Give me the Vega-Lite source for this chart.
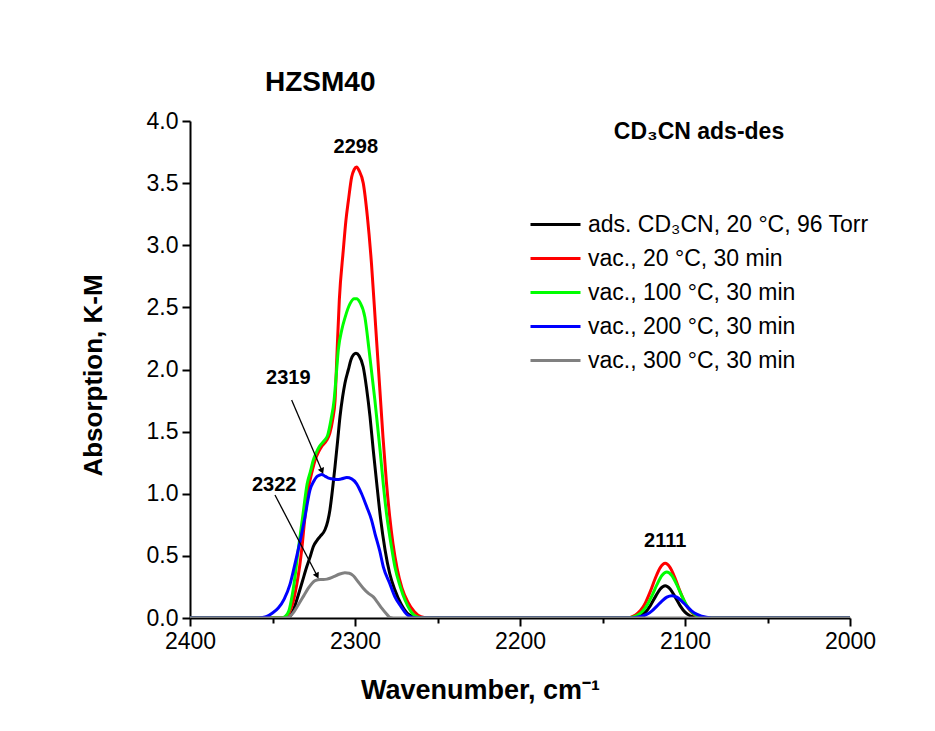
{
  "$schema": "https://vega.github.io/schema/vega-lite/v6.json",
  "width": 660,
  "height": 497,
  "autosize": {"type": "none"},
  "padding": {"left": 190, "top": 121, "right": 85, "bottom": 113},
  "background": "white",
  "config": {"view": {"stroke": null}},
  "title": {"text": "HZSM40", "anchor": "start", "frame": "group", "dx": 75, "offset": -9, "baseline": "alphabetic", "font": "Liberation Sans", "fontWeight": "bold", "fontSize": 28, "color": "black"},
  "datasets": {
    "spectra": [
      {"s":"ads. CD₃CN, 20 °C, 96 Torr","wn":2400,"A":0},{"s":"ads. CD₃CN, 20 °C, 96 Torr","wn":2380,"A":0},{"s":"ads. CD₃CN, 20 °C, 96 Torr","wn":2360,"A":0},{"s":"ads. CD₃CN, 20 °C, 96 Torr","wn":2345,"A":0},{"s":"ads. CD₃CN, 20 °C, 96 Torr","wn":2340,"A":0.005},{"s":"ads. CD₃CN, 20 °C, 96 Torr","wn":2337.5,"A":0.06},{"s":"ads. CD₃CN, 20 °C, 96 Torr","wn":2335.3,"A":0.145},{"s":"ads. CD₃CN, 20 °C, 96 Torr","wn":2332,"A":0.29},{"s":"ads. CD₃CN, 20 °C, 96 Torr","wn":2329.3,"A":0.41},{"s":"ads. CD₃CN, 20 °C, 96 Torr","wn":2327,"A":0.5},{"s":"ads. CD₃CN, 20 °C, 96 Torr","wn":2325.3,"A":0.574},{"s":"ads. CD₃CN, 20 °C, 96 Torr","wn":2323,"A":0.625},{"s":"ads. CD₃CN, 20 °C, 96 Torr","wn":2321.2,"A":0.655},{"s":"ads. CD₃CN, 20 °C, 96 Torr","wn":2318.2,"A":0.71},{"s":"ads. CD₃CN, 20 °C, 96 Torr","wn":2316.5,"A":0.78},{"s":"ads. CD₃CN, 20 °C, 96 Torr","wn":2315.2,"A":0.87},{"s":"ads. CD₃CN, 20 °C, 96 Torr","wn":2313.5,"A":1.05},{"s":"ads. CD₃CN, 20 °C, 96 Torr","wn":2312.1,"A":1.22},{"s":"ads. CD₃CN, 20 °C, 96 Torr","wn":2310.5,"A":1.43},{"s":"ads. CD₃CN, 20 °C, 96 Torr","wn":2309.1,"A":1.62},{"s":"ads. CD₃CN, 20 °C, 96 Torr","wn":2307.5,"A":1.78},{"s":"ads. CD₃CN, 20 °C, 96 Torr","wn":2306.1,"A":1.89},{"s":"ads. CD₃CN, 20 °C, 96 Torr","wn":2304,"A":2.0},{"s":"ads. CD₃CN, 20 °C, 96 Torr","wn":2302.4,"A":2.08},{"s":"ads. CD₃CN, 20 °C, 96 Torr","wn":2300.8,"A":2.12},{"s":"ads. CD₃CN, 20 °C, 96 Torr","wn":2299.4,"A":2.13},{"s":"ads. CD₃CN, 20 °C, 96 Torr","wn":2297.5,"A":2.11},{"s":"ads. CD₃CN, 20 °C, 96 Torr","wn":2295,"A":2.02},{"s":"ads. CD₃CN, 20 °C, 96 Torr","wn":2293,"A":1.85},{"s":"ads. CD₃CN, 20 °C, 96 Torr","wn":2290.9,"A":1.62},{"s":"ads. CD₃CN, 20 °C, 96 Torr","wn":2289,"A":1.36},{"s":"ads. CD₃CN, 20 °C, 96 Torr","wn":2286.8,"A":1.08},{"s":"ads. CD₃CN, 20 °C, 96 Torr","wn":2284.5,"A":0.8},{"s":"ads. CD₃CN, 20 °C, 96 Torr","wn":2281.8,"A":0.55},{"s":"ads. CD₃CN, 20 °C, 96 Torr","wn":2279,"A":0.36},{"s":"ads. CD₃CN, 20 °C, 96 Torr","wn":2275.8,"A":0.225},{"s":"ads. CD₃CN, 20 °C, 96 Torr","wn":2272,"A":0.11},{"s":"ads. CD₃CN, 20 °C, 96 Torr","wn":2267.7,"A":0.03},{"s":"ads. CD₃CN, 20 °C, 96 Torr","wn":2263,"A":0.005},{"s":"ads. CD₃CN, 20 °C, 96 Torr","wn":2258,"A":0},{"s":"ads. CD₃CN, 20 °C, 96 Torr","wn":2220,"A":0},{"s":"ads. CD₃CN, 20 °C, 96 Torr","wn":2180,"A":0},{"s":"ads. CD₃CN, 20 °C, 96 Torr","wn":2140,"A":0},{"s":"ads. CD₃CN, 20 °C, 96 Torr","wn":2133,"A":0},{"s":"ads. CD₃CN, 20 °C, 96 Torr","wn":2130,"A":0.006},{"s":"ads. CD₃CN, 20 °C, 96 Torr","wn":2127,"A":0.018},{"s":"ads. CD₃CN, 20 °C, 96 Torr","wn":2124,"A":0.047},{"s":"ads. CD₃CN, 20 °C, 96 Torr","wn":2121,"A":0.1},{"s":"ads. CD₃CN, 20 °C, 96 Torr","wn":2118,"A":0.17},{"s":"ads. CD₃CN, 20 °C, 96 Torr","wn":2115,"A":0.234},{"s":"ads. CD₃CN, 20 °C, 96 Torr","wn":2112,"A":0.26},{"s":"ads. CD₃CN, 20 °C, 96 Torr","wn":2109,"A":0.234},{"s":"ads. CD₃CN, 20 °C, 96 Torr","wn":2106,"A":0.17},{"s":"ads. CD₃CN, 20 °C, 96 Torr","wn":2103,"A":0.1},{"s":"ads. CD₃CN, 20 °C, 96 Torr","wn":2100,"A":0.047},{"s":"ads. CD₃CN, 20 °C, 96 Torr","wn":2097,"A":0.018},{"s":"ads. CD₃CN, 20 °C, 96 Torr","wn":2094,"A":0.006},{"s":"ads. CD₃CN, 20 °C, 96 Torr","wn":2091,"A":0},{"s":"ads. CD₃CN, 20 °C, 96 Torr","wn":2060,"A":0},{"s":"ads. CD₃CN, 20 °C, 96 Torr","wn":2030,"A":0},{"s":"ads. CD₃CN, 20 °C, 96 Torr","wn":2000,"A":0},

      {"s":"vac., 20 °C, 30 min","wn":2400,"A":0},{"s":"vac., 20 °C, 30 min","wn":2380,"A":0},{"s":"vac., 20 °C, 30 min","wn":2360,"A":0},{"s":"vac., 20 °C, 30 min","wn":2345,"A":0},{"s":"vac., 20 °C, 30 min","wn":2342,"A":0.01},{"s":"vac., 20 °C, 30 min","wn":2340,"A":0.04},{"s":"vac., 20 °C, 30 min","wn":2337.5,"A":0.13},{"s":"vac., 20 °C, 30 min","wn":2335.3,"A":0.27},{"s":"vac., 20 °C, 30 min","wn":2333.5,"A":0.42},{"s":"vac., 20 °C, 30 min","wn":2332.3,"A":0.55},{"s":"vac., 20 °C, 30 min","wn":2330.3,"A":0.815},{"s":"vac., 20 °C, 30 min","wn":2327.7,"A":1.08},{"s":"vac., 20 °C, 30 min","wn":2326,"A":1.18},{"s":"vac., 20 °C, 30 min","wn":2324.2,"A":1.27},{"s":"vac., 20 °C, 30 min","wn":2322,"A":1.34},{"s":"vac., 20 °C, 30 min","wn":2320.2,"A":1.38},{"s":"vac., 20 °C, 30 min","wn":2317.2,"A":1.43},{"s":"vac., 20 °C, 30 min","wn":2315.2,"A":1.49},{"s":"vac., 20 °C, 30 min","wn":2313.5,"A":1.6},{"s":"vac., 20 °C, 30 min","wn":2312.1,"A":1.75},{"s":"vac., 20 °C, 30 min","wn":2311,"A":2.1},{"s":"vac., 20 °C, 30 min","wn":2309.5,"A":2.56},{"s":"vac., 20 °C, 30 min","wn":2307.1,"A":2.96},{"s":"vac., 20 °C, 30 min","wn":2305.5,"A":3.2},{"s":"vac., 20 °C, 30 min","wn":2304,"A":3.36},{"s":"vac., 20 °C, 30 min","wn":2302,"A":3.55},{"s":"vac., 20 °C, 30 min","wn":2300.5,"A":3.61},{"s":"vac., 20 °C, 30 min","wn":2299,"A":3.63},{"s":"vac., 20 °C, 30 min","wn":2297.5,"A":3.6},{"s":"vac., 20 °C, 30 min","wn":2295,"A":3.5},{"s":"vac., 20 °C, 30 min","wn":2292.5,"A":3.23},{"s":"vac., 20 °C, 30 min","wn":2290,"A":2.85},{"s":"vac., 20 °C, 30 min","wn":2287.5,"A":2.35},{"s":"vac., 20 °C, 30 min","wn":2285,"A":1.85},{"s":"vac., 20 °C, 30 min","wn":2283,"A":1.45},{"s":"vac., 20 °C, 30 min","wn":2281,"A":1.1},{"s":"vac., 20 °C, 30 min","wn":2279,"A":0.82},{"s":"vac., 20 °C, 30 min","wn":2277,"A":0.6},{"s":"vac., 20 °C, 30 min","wn":2274.5,"A":0.4},{"s":"vac., 20 °C, 30 min","wn":2271.5,"A":0.24},{"s":"vac., 20 °C, 30 min","wn":2268,"A":0.13},{"s":"vac., 20 °C, 30 min","wn":2264,"A":0.05},{"s":"vac., 20 °C, 30 min","wn":2260,"A":0.01},{"s":"vac., 20 °C, 30 min","wn":2255,"A":0},{"s":"vac., 20 °C, 30 min","wn":2220,"A":0},{"s":"vac., 20 °C, 30 min","wn":2180,"A":0},{"s":"vac., 20 °C, 30 min","wn":2140,"A":0},{"s":"vac., 20 °C, 30 min","wn":2134,"A":0},{"s":"vac., 20 °C, 30 min","wn":2133,"A":0.005},{"s":"vac., 20 °C, 30 min","wn":2130,"A":0.025},{"s":"vac., 20 °C, 30 min","wn":2127,"A":0.06},{"s":"vac., 20 °C, 30 min","wn":2124,"A":0.122},{"s":"vac., 20 °C, 30 min","wn":2121,"A":0.214},{"s":"vac., 20 °C, 30 min","wn":2118,"A":0.32},{"s":"vac., 20 °C, 30 min","wn":2115,"A":0.406},{"s":"vac., 20 °C, 30 min","wn":2112,"A":0.44},{"s":"vac., 20 °C, 30 min","wn":2109,"A":0.406},{"s":"vac., 20 °C, 30 min","wn":2106,"A":0.32},{"s":"vac., 20 °C, 30 min","wn":2103,"A":0.214},{"s":"vac., 20 °C, 30 min","wn":2100,"A":0.122},{"s":"vac., 20 °C, 30 min","wn":2097,"A":0.06},{"s":"vac., 20 °C, 30 min","wn":2094,"A":0.025},{"s":"vac., 20 °C, 30 min","wn":2091,"A":0.005},{"s":"vac., 20 °C, 30 min","wn":2088,"A":0},{"s":"vac., 20 °C, 30 min","wn":2060,"A":0},{"s":"vac., 20 °C, 30 min","wn":2030,"A":0},{"s":"vac., 20 °C, 30 min","wn":2000,"A":0},

      {"s":"vac., 100 °C, 30 min","wn":2400,"A":0},{"s":"vac., 100 °C, 30 min","wn":2380,"A":0},{"s":"vac., 100 °C, 30 min","wn":2360,"A":0},{"s":"vac., 100 °C, 30 min","wn":2345,"A":0},{"s":"vac., 100 °C, 30 min","wn":2342.5,"A":0.01},{"s":"vac., 100 °C, 30 min","wn":2340,"A":0.06},{"s":"vac., 100 °C, 30 min","wn":2338.5,"A":0.15},{"s":"vac., 100 °C, 30 min","wn":2337,"A":0.27},{"s":"vac., 100 °C, 30 min","wn":2334.4,"A":0.55},{"s":"vac., 100 °C, 30 min","wn":2331.7,"A":0.815},{"s":"vac., 100 °C, 30 min","wn":2329,"A":1.08},{"s":"vac., 100 °C, 30 min","wn":2327,"A":1.18},{"s":"vac., 100 °C, 30 min","wn":2325.3,"A":1.27},{"s":"vac., 100 °C, 30 min","wn":2323.5,"A":1.33},{"s":"vac., 100 °C, 30 min","wn":2321.6,"A":1.38},{"s":"vac., 100 °C, 30 min","wn":2318.5,"A":1.43},{"s":"vac., 100 °C, 30 min","wn":2316.6,"A":1.47},{"s":"vac., 100 °C, 30 min","wn":2314.5,"A":1.6},{"s":"vac., 100 °C, 30 min","wn":2312.7,"A":1.75},{"s":"vac., 100 °C, 30 min","wn":2311.4,"A":1.95},{"s":"vac., 100 °C, 30 min","wn":2310.1,"A":2.16},{"s":"vac., 100 °C, 30 min","wn":2308,"A":2.32},{"s":"vac., 100 °C, 30 min","wn":2306,"A":2.42},{"s":"vac., 100 °C, 30 min","wn":2303,"A":2.53},{"s":"vac., 100 °C, 30 min","wn":2300.5,"A":2.57},{"s":"vac., 100 °C, 30 min","wn":2299,"A":2.57},{"s":"vac., 100 °C, 30 min","wn":2297,"A":2.54},{"s":"vac., 100 °C, 30 min","wn":2294,"A":2.42},{"s":"vac., 100 °C, 30 min","wn":2291.5,"A":2.16},{"s":"vac., 100 °C, 30 min","wn":2288,"A":1.76},{"s":"vac., 100 °C, 30 min","wn":2284.8,"A":1.35},{"s":"vac., 100 °C, 30 min","wn":2282.8,"A":1.07},{"s":"vac., 100 °C, 30 min","wn":2280.8,"A":0.83},{"s":"vac., 100 °C, 30 min","wn":2278,"A":0.58},{"s":"vac., 100 °C, 30 min","wn":2275.8,"A":0.41},{"s":"vac., 100 °C, 30 min","wn":2272.5,"A":0.25},{"s":"vac., 100 °C, 30 min","wn":2269.7,"A":0.145},{"s":"vac., 100 °C, 30 min","wn":2266,"A":0.05},{"s":"vac., 100 °C, 30 min","wn":2262.6,"A":0.01},{"s":"vac., 100 °C, 30 min","wn":2258,"A":0},{"s":"vac., 100 °C, 30 min","wn":2220,"A":0},{"s":"vac., 100 °C, 30 min","wn":2180,"A":0},{"s":"vac., 100 °C, 30 min","wn":2140,"A":0},{"s":"vac., 100 °C, 30 min","wn":2134,"A":0},{"s":"vac., 100 °C, 30 min","wn":2132,"A":0.007},{"s":"vac., 100 °C, 30 min","wn":2129,"A":0.021},{"s":"vac., 100 °C, 30 min","wn":2126,"A":0.05},{"s":"vac., 100 °C, 30 min","wn":2123,"A":0.103},{"s":"vac., 100 °C, 30 min","wn":2120,"A":0.18},{"s":"vac., 100 °C, 30 min","wn":2117,"A":0.269},{"s":"vac., 100 °C, 30 min","wn":2114,"A":0.342},{"s":"vac., 100 °C, 30 min","wn":2111,"A":0.37},{"s":"vac., 100 °C, 30 min","wn":2108,"A":0.342},{"s":"vac., 100 °C, 30 min","wn":2105,"A":0.269},{"s":"vac., 100 °C, 30 min","wn":2102,"A":0.18},{"s":"vac., 100 °C, 30 min","wn":2099,"A":0.103},{"s":"vac., 100 °C, 30 min","wn":2096,"A":0.05},{"s":"vac., 100 °C, 30 min","wn":2093,"A":0.021},{"s":"vac., 100 °C, 30 min","wn":2090,"A":0.007},{"s":"vac., 100 °C, 30 min","wn":2087,"A":0},{"s":"vac., 100 °C, 30 min","wn":2060,"A":0},{"s":"vac., 100 °C, 30 min","wn":2030,"A":0},{"s":"vac., 100 °C, 30 min","wn":2000,"A":0},

      {"s":"vac., 200 °C, 30 min","wn":2400,"A":0},{"s":"vac., 200 °C, 30 min","wn":2380,"A":0},{"s":"vac., 200 °C, 30 min","wn":2362,"A":0},{"s":"vac., 200 °C, 30 min","wn":2356,"A":0.005},{"s":"vac., 200 °C, 30 min","wn":2353.5,"A":0.012},{"s":"vac., 200 °C, 30 min","wn":2350,"A":0.04},{"s":"vac., 200 °C, 30 min","wn":2346.5,"A":0.08},{"s":"vac., 200 °C, 30 min","wn":2343,"A":0.15},{"s":"vac., 200 °C, 30 min","wn":2339.4,"A":0.27},{"s":"vac., 200 °C, 30 min","wn":2337,"A":0.4},{"s":"vac., 200 °C, 30 min","wn":2334.4,"A":0.55},{"s":"vac., 200 °C, 30 min","wn":2332,"A":0.7},{"s":"vac., 200 °C, 30 min","wn":2330.3,"A":0.815},{"s":"vac., 200 °C, 30 min","wn":2327.3,"A":1.03},{"s":"vac., 200 °C, 30 min","wn":2325,"A":1.1},{"s":"vac., 200 °C, 30 min","wn":2323.2,"A":1.137},{"s":"vac., 200 °C, 30 min","wn":2321.5,"A":1.15},{"s":"vac., 200 °C, 30 min","wn":2320.2,"A":1.155},{"s":"vac., 200 °C, 30 min","wn":2318,"A":1.14},{"s":"vac., 200 °C, 30 min","wn":2316,"A":1.125},{"s":"vac., 200 °C, 30 min","wn":2314.1,"A":1.12},{"s":"vac., 200 °C, 30 min","wn":2311,"A":1.115},{"s":"vac., 200 °C, 30 min","wn":2308.1,"A":1.12},{"s":"vac., 200 °C, 30 min","wn":2305,"A":1.13},{"s":"vac., 200 °C, 30 min","wn":2302,"A":1.12},{"s":"vac., 200 °C, 30 min","wn":2299,"A":1.08},{"s":"vac., 200 °C, 30 min","wn":2296,"A":1.0},{"s":"vac., 200 °C, 30 min","wn":2292.9,"A":0.895},{"s":"vac., 200 °C, 30 min","wn":2290,"A":0.79},{"s":"vac., 200 °C, 30 min","wn":2287.9,"A":0.68},{"s":"vac., 200 °C, 30 min","wn":2285,"A":0.54},{"s":"vac., 200 °C, 30 min","wn":2282.8,"A":0.41},{"s":"vac., 200 °C, 30 min","wn":2279,"A":0.28},{"s":"vac., 200 °C, 30 min","wn":2275.8,"A":0.17},{"s":"vac., 200 °C, 30 min","wn":2272,"A":0.09},{"s":"vac., 200 °C, 30 min","wn":2268.7,"A":0.03},{"s":"vac., 200 °C, 30 min","wn":2265,"A":0.005},{"s":"vac., 200 °C, 30 min","wn":2261,"A":0},{"s":"vac., 200 °C, 30 min","wn":2220,"A":0},{"s":"vac., 200 °C, 30 min","wn":2180,"A":0},{"s":"vac., 200 °C, 30 min","wn":2140,"A":0},{"s":"vac., 200 °C, 30 min","wn":2132,"A":0},{"s":"vac., 200 °C, 30 min","wn":2129,"A":0.006},{"s":"vac., 200 °C, 30 min","wn":2126,"A":0.014},{"s":"vac., 200 °C, 30 min","wn":2123,"A":0.031},{"s":"vac., 200 °C, 30 min","wn":2120,"A":0.058},{"s":"vac., 200 °C, 30 min","wn":2117,"A":0.096},{"s":"vac., 200 °C, 30 min","wn":2114,"A":0.136},{"s":"vac., 200 °C, 30 min","wn":2111,"A":0.168},{"s":"vac., 200 °C, 30 min","wn":2108,"A":0.18},{"s":"vac., 200 °C, 30 min","wn":2105,"A":0.168},{"s":"vac., 200 °C, 30 min","wn":2102,"A":0.136},{"s":"vac., 200 °C, 30 min","wn":2099,"A":0.096},{"s":"vac., 200 °C, 30 min","wn":2096,"A":0.058},{"s":"vac., 200 °C, 30 min","wn":2093,"A":0.031},{"s":"vac., 200 °C, 30 min","wn":2090,"A":0.014},{"s":"vac., 200 °C, 30 min","wn":2087,"A":0.006},{"s":"vac., 200 °C, 30 min","wn":2084,"A":0},{"s":"vac., 200 °C, 30 min","wn":2060,"A":0},{"s":"vac., 200 °C, 30 min","wn":2030,"A":0},{"s":"vac., 200 °C, 30 min","wn":2000,"A":0},

      {"s":"vac., 300 °C, 30 min","wn":2400,"A":0},{"s":"vac., 300 °C, 30 min","wn":2380,"A":0},{"s":"vac., 300 °C, 30 min","wn":2360,"A":0},{"s":"vac., 300 °C, 30 min","wn":2345,"A":0},{"s":"vac., 300 °C, 30 min","wn":2340.4,"A":0.005},{"s":"vac., 300 °C, 30 min","wn":2337,"A":0.05},{"s":"vac., 300 °C, 30 min","wn":2334.4,"A":0.105},{"s":"vac., 300 °C, 30 min","wn":2331,"A":0.18},{"s":"vac., 300 °C, 30 min","wn":2328.3,"A":0.24},{"s":"vac., 300 °C, 30 min","wn":2326,"A":0.28},{"s":"vac., 300 °C, 30 min","wn":2324.2,"A":0.3},{"s":"vac., 300 °C, 30 min","wn":2321,"A":0.31},{"s":"vac., 300 °C, 30 min","wn":2319.2,"A":0.31},{"s":"vac., 300 °C, 30 min","wn":2317,"A":0.313},{"s":"vac., 300 °C, 30 min","wn":2315.2,"A":0.32},{"s":"vac., 300 °C, 30 min","wn":2312.5,"A":0.335},{"s":"vac., 300 °C, 30 min","wn":2310.1,"A":0.35},{"s":"vac., 300 °C, 30 min","wn":2306.1,"A":0.365},{"s":"vac., 300 °C, 30 min","wn":2303.5,"A":0.36},{"s":"vac., 300 °C, 30 min","wn":2301,"A":0.34},{"s":"vac., 300 °C, 30 min","wn":2298,"A":0.29},{"s":"vac., 300 °C, 30 min","wn":2295,"A":0.24},{"s":"vac., 300 °C, 30 min","wn":2292,"A":0.2},{"s":"vac., 300 °C, 30 min","wn":2288.9,"A":0.17},{"s":"vac., 300 °C, 30 min","wn":2286,"A":0.12},{"s":"vac., 300 °C, 30 min","wn":2283.8,"A":0.08},{"s":"vac., 300 °C, 30 min","wn":2281,"A":0.035},{"s":"vac., 300 °C, 30 min","wn":2278.8,"A":0.005},{"s":"vac., 300 °C, 30 min","wn":2275,"A":0},{"s":"vac., 300 °C, 30 min","wn":2250,"A":0},{"s":"vac., 300 °C, 30 min","wn":2200,"A":0},{"s":"vac., 300 °C, 30 min","wn":2150,"A":0},{"s":"vac., 300 °C, 30 min","wn":2100,"A":0},{"s":"vac., 300 °C, 30 min","wn":2050,"A":0},{"s":"vac., 300 °C, 30 min","wn":2000,"A":0}
    ],
    "peaks": [
      {"label": "2298", "wn": 2299.5, "A": 3.79},
      {"label": "2111", "wn": 2112, "A": 0.62},
      {"label": "2319", "wn": 2340.4, "A": 1.935},
      {"label": "2322", "wn": 2349, "A": 1.07}
    ],
    "arrows": [
      {"label": "2319", "wn": 2338.4, "A": 1.755, "wn2": 2320.2, "A2": 1.19},
      {"label": "2322", "wn": 2348.5, "A": 0.99, "wn2": 2323.2, "A2": 0.346}
    ]
  },
  "layer": [
    {
      "data": {"name": "spectra"},
      "mark": {"type": "line", "strokeWidth": 3, "interpolate": "monotone", "clip": true},
      "encoding": {
        "x": {"field": "wn", "type": "quantitative",
          "scale": {"domain": [2000, 2400], "reverse": true, "nice": false, "zero": false},
          "axis": {
            "values": [2400, 2350, 2300, 2250, 2200, 2150, 2100, 2050, 2000],
            "labelExpr": "datum.value % 100 === 0 ? datum.label : ''",
            "format": "d", "grid": false, "labelOverlap": false, "labelFlush": false,
            "domainColor": "black", "domainWidth": 2, "tickColor": "black", "tickWidth": 2,
            "tickSize": {"condition": {"test": "datum.value % 100 !== 0", "value": 5}, "value": 8},
            "labelFont": "Liberation Sans", "labelFontSize": 23, "labelColor": "black", "labelPadding": 4,
            "title": "Wavenumber, cm⁻¹", "titleFont": "Liberation Sans",
            "titleFontWeight": "bold", "titleFontSize": 27, "titleColor": "black",
            "titleX": 290, "titleY": 80, "titleAlign": "center", "titleBaseline": "alphabetic"
          }
        },
        "y": {"field": "A", "type": "quantitative",
          "scale": {"domain": [0, 4], "nice": false},
          "axis": {
            "values": [0, 0.25, 0.5, 0.75, 1, 1.25, 1.5, 1.75, 2, 2.25, 2.5, 2.75, 3, 3.25, 3.5, 3.75, 4],
            "labelExpr": "datum.value % 0.5 === 0 ? datum.label : ''",
            "format": ".1f", "grid": false, "labelOverlap": false, "labelFlush": false,
            "domainColor": "black", "domainWidth": 2, "tickColor": "black", "tickWidth": 2,
            "tickSize": {"condition": {"test": "datum.value % 0.5 !== 0", "value": 5}, "value": 8},
            "labelFont": "Liberation Sans", "labelFontSize": 23, "labelColor": "black", "labelPadding": 4,
            "title": "Absorption, K-M", "titleFont": "Liberation Sans",
            "titleFontWeight": "bold", "titleFontSize": 26, "titleColor": "black",
            "titleX": -89, "titleY": 254, "titleAngle": -90, "titleAlign": "center", "titleBaseline": "alphabetic"
          }
        },
        "color": {"field": "s", "type": "nominal",
          "scale": {
            "domain": ["ads. CD₃CN, 20 °C, 96 Torr", "vac., 20 °C, 30 min", "vac., 100 °C, 30 min", "vac., 200 °C, 30 min", "vac., 300 °C, 30 min"],
            "range": ["#000000", "#ff0000", "#00ff00", "#0000ff", "#808080"]
          },
          "legend": {
            "orient": "none", "legendX": 339, "legendY": 0,
            "title": "CD₃CN ads-des", "titleFont": "Liberation Sans", "titleFontWeight": "bold", "titleFontSize": 23,
            "titleColor": "black", "titleAnchor": "middle", "titlePadding": 69,
            "symbolType": "M-1,0H4", "symbolSize": 400, "symbolStrokeWidth": 3,
            "labelFont": "Liberation Sans", "labelFontSize": 23, "labelColor": "black", "labelOffset": 36, "labelLimit": 0,
            "rowPadding": 10
          }
        },
        "order": {"field": "wn", "sort": "descending"}
      }
    },
    {
      "data": {"name": "arrows"},
      "mark": {"type": "rule", "strokeWidth": 1.3, "color": "black"},
      "encoding": {
        "x": {"field": "wn", "type": "quantitative"},
        "x2": {"field": "wn2"},
        "y": {"field": "A", "type": "quantitative"},
        "y2": {"field": "A2"}
      }
    },
    {
      "data": {"name": "arrows"},
      "transform": [{"filter": "datum.label === '2319'"}],
      "mark": {"type": "point", "shape": "triangle", "filled": true, "size": 45, "angle": 157, "color": "black", "opacity": 1},
      "encoding": {
        "x": {"field": "wn2", "type": "quantitative"},
        "y": {"field": "A2", "type": "quantitative"}
      }
    },
    {
      "data": {"name": "arrows"},
      "transform": [{"filter": "datum.label === '2322'"}],
      "mark": {"type": "point", "shape": "triangle", "filled": true, "size": 45, "angle": 152, "color": "black", "opacity": 1},
      "encoding": {
        "x": {"field": "wn2", "type": "quantitative"},
        "y": {"field": "A2", "type": "quantitative"}
      }
    },
    {
      "data": {"name": "peaks"},
      "mark": {"type": "text", "font": "Liberation Sans", "fontWeight": "bold", "fontSize": 20, "color": "black", "align": "center", "baseline": "middle"},
      "encoding": {
        "x": {"field": "wn", "type": "quantitative"},
        "y": {"field": "A", "type": "quantitative"},
        "text": {"field": "label"}
      }
    }
  ]
}
